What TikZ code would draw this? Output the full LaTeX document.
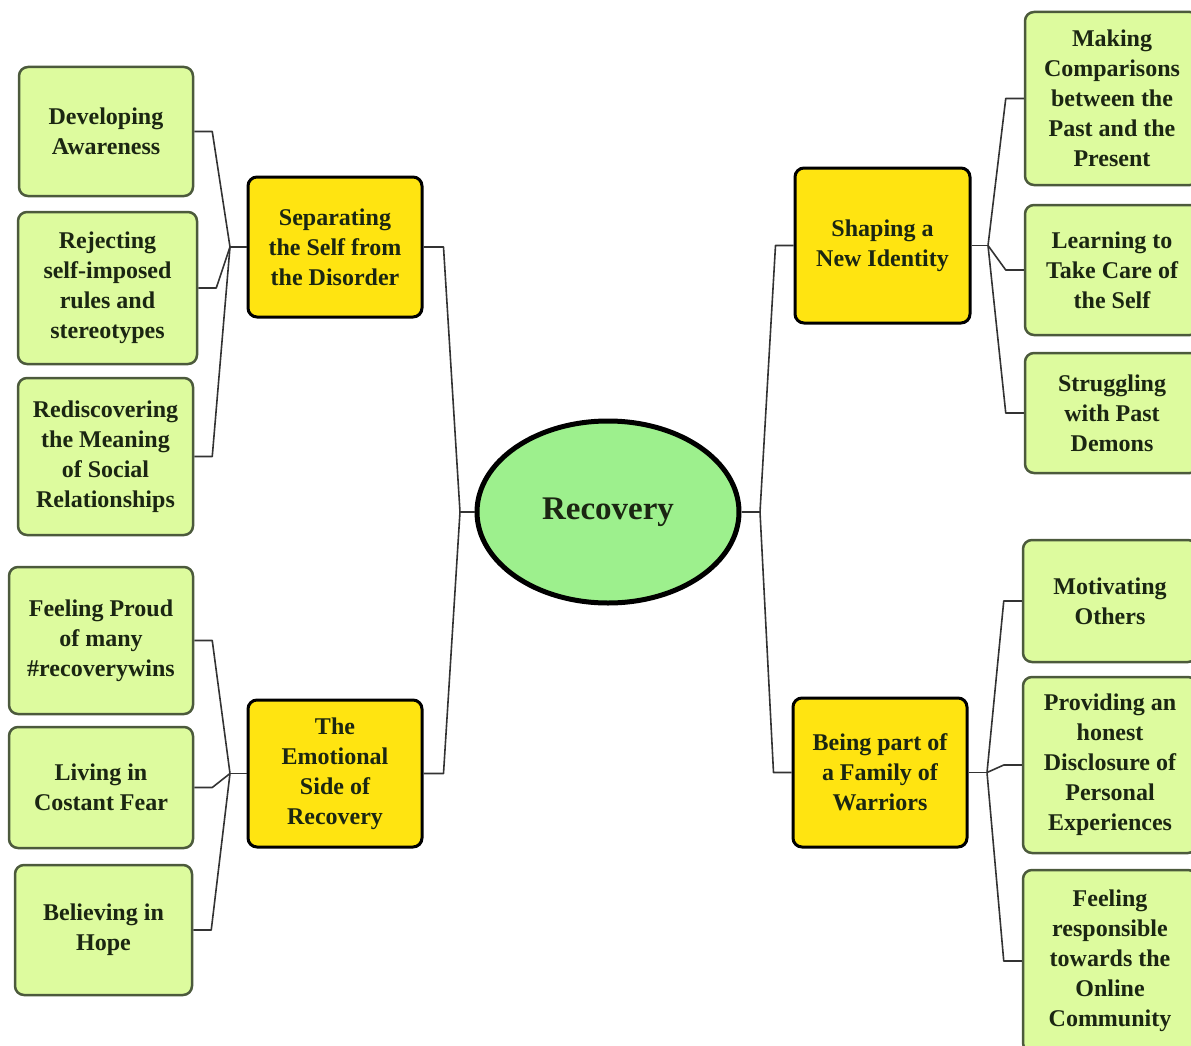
\documentclass[tikz,border=0pt]{standalone}
\usepackage{fontspec}
\setmainfont{Liberation Serif}
\usetikzlibrary{shapes.geometric}
\definecolor{leaffill}{HTML}{DDFB9E}
\definecolor{leafline}{HTML}{4C5A3C}
\definecolor{yelfill}{HTML}{FFE411}
\definecolor{ovalfill}{HTML}{9DF08D}
\definecolor{txt}{HTML}{1B2612}
\definecolor{conn}{HTML}{333333}
\begin{document}
\begin{tikzpicture}[x=1pt,y=-1pt,
  every node/.style={font=\fontsize{24}{30}\selectfont\bfseries, text=txt, align=center, inner sep=0pt},
  leaf/.style={draw=leafline, line width=2.5pt, fill=leaffill, rounded corners=9pt, minimum width=#1},
  leaf/.default=174pt,
  theme/.style={draw=black, line width=3pt, fill=yelfill, rounded corners=9pt, minimum width=174pt},
  core/.style={ellipse, draw=black, line width=5pt, fill=ovalfill, minimum width=262pt, minimum height=182pt, font=\fontsize{33}{40}\selectfont\bfseries},
  link/.style={draw=conn, line width=1.6pt, line join=round}
]
\useasboundingbox (0,0) rectangle (1191,1046);
\clip (0,0) rectangle (1191,1046);

% core
\node[core] (rec) at (608,512) {Recovery};

% themes
\node[theme, minimum height=140pt] (sep) at (335,247) {Separating\\the Self from\\the Disorder};
\node[theme, minimum height=147pt] (emo) at (335,773.5) {The\\Emotional\\Side of\\Recovery};
\node[theme, minimum width=175pt, minimum height=155pt] (sha) at (882.5,245.5) {Shaping a\\New Identity};
\node[theme, minimum height=149pt] (bei) at (880,772.5) {Being part of\\a Family of\\Warriors};

% left top leaves
\node[leaf=174pt, minimum height=129pt] (dev) at (106,131.5) {Developing\\Awareness};
\node[leaf=179pt, minimum height=152pt] (rej) at (107.5,288) {Rejecting\\self-imposed\\rules and\\stereotypes};
\node[leaf=175pt, minimum height=157pt] (red) at (105.5,456.5) {Rediscovering\\the Meaning\\of Social\\Relationships};

% left bottom leaves
\node[leaf=184pt, minimum height=147pt] (pro) at (101,640.5) {Feeling Proud\\of many\\\#recoverywins};
\node[leaf=184pt, minimum height=121pt] (liv) at (101,787.5) {Living in\\Costant Fear};
\node[leaf=177pt, minimum height=130pt] (bel) at (103.5,930) {Believing in\\Hope};

% right top leaves
\node[leaf=174pt, minimum height=173pt] (mak) at (1112,98.5) {Making\\Comparisons\\between the\\Past and the\\Present};
\node[leaf=174pt, minimum height=130pt] (lea) at (1112,270) {Learning to\\Take Care of\\the Self};
\node[leaf=174pt, minimum height=120pt] (str) at (1112,413) {Struggling\\with Past\\Demons};

% right bottom leaves
\node[leaf=174pt, minimum height=122pt] (mot) at (1110,601) {Motivating\\Others};
\node[leaf=174pt, minimum height=176pt] (prv) at (1110,765) {Providing an\\honest\\Disclosure of\\Personal\\Experiences};
\node[leaf=174pt, minimum height=182pt] (fee) at (1110,961) {Feeling\\responsible\\towards the\\Online\\Community};

% junctions
\coordinate (jL) at (460,512);
\coordinate (jR) at (760,512);
\coordinate (jSep) at (230,247);
\coordinate (jEmo) at (230,773.5);
\coordinate (jSha) at (988,245.5);
\coordinate (jBei) at (987,772.5);

% core links
\draw[link] (rec.west) -- (jL);
\draw[link] (rec.east) -- (jR);
\draw[link] (sep.east) -- ++(20,0) -- (jL);
\draw[link] (emo.east) -- ++(20,0) -- (jL);
\draw[link] (sha.west) -- ++(-18,0) -- (jR);
\draw[link] (bei.west) -- ++(-18,0) -- (jR);

% theme links
\draw[link] (sep.west) -- (jSep);
\foreach \n in {dev,rej,red} \draw[link] (\n.east) -- ++(18,0) -- (jSep);
\draw[link] (emo.west) -- (jEmo);
\foreach \n in {pro,liv,bel} \draw[link] (\n.east) -- ++(18,0) -- (jEmo);
\draw[link] (sha.east) -- (jSha);
\foreach \n in {mak,lea,str} \draw[link] (\n.west) -- ++(-18,0) -- (jSha);
\draw[link] (bei.east) -- (jBei);
\foreach \n in {mot,prv,fee} \draw[link] (\n.west) -- ++(-18,0) -- (jBei);
\end{tikzpicture}
\end{document}
